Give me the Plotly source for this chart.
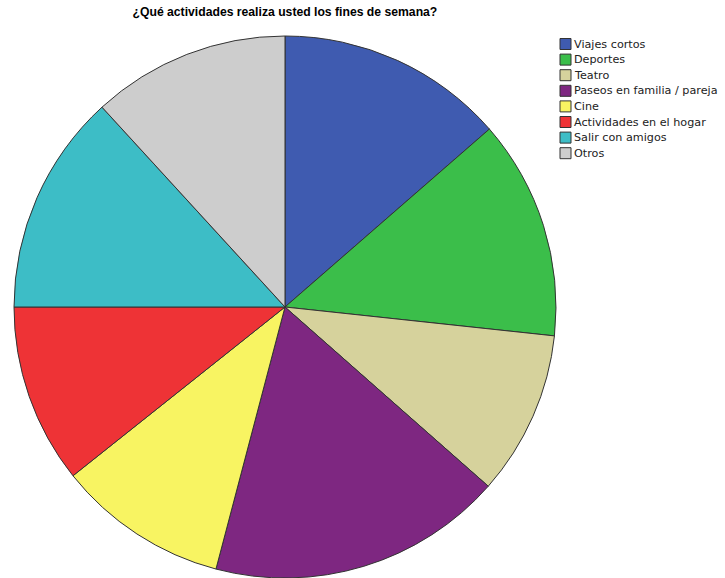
import plotly.graph_objects as go

categories = ["Viajes cortos", "Deportes", "Teatro", "Paseos en familia / pareja",
              "Cine", "Actividades en el hogar", "Salir con amigos", "Otros"]
values = [13.6, 13.1, 9.8, 17.6, 10.2, 10.7, 13.2, 11.8]
colors = ["#3F5BB0", "#3BBE4A", "#D6D29C", "#7E2781", "#F8F462", "#EE3336", "#3DBDC6", "#CDCDCD"]

W, H = 725, 578

fig = go.Figure(go.Pie(
    labels=categories,
    values=values,
    sort=False,
    direction="clockwise",
    rotation=0,
    textinfo="none",
    hoverinfo="label+percent",
    showlegend=False,
    marker=dict(colors=colors, line=dict(color="#333333", width=1)),
    domain=dict(x=[0.0193, 0.7669], y=[0.0, 0.9377]),
))

# compact legend (SPSS style) built from the category list
shapes, annots = [], []
y0, step = 44, 15.6
for i, (lab, col) in enumerate(zip(categories, colors)):
    yc = y0 + i * step
    shapes.append(dict(type="rect", xref="paper", yref="paper",
                       x0=560 / W, x1=571 / W,
                       y0=1 - (yc + 5.5) / H, y1=1 - (yc - 5.5) / H,
                       fillcolor=col, line=dict(color="#333333", width=1)))
    annots.append(dict(text=lab, xref="paper", yref="paper",
                       x=572 / W, y=1 - yc / H, xanchor="left", yanchor="middle",
                       showarrow=False,
                       font=dict(family="DejaVu Sans", size=11.2, color="#222")))

fig.update_layout(
    width=W, height=H,
    margin=dict(l=0, r=0, t=0, b=0),
    paper_bgcolor="white",
    title=dict(text="<b>¿Qué actividades realiza usted los fines de semana?</b>",
               x=0.393, xanchor="center", y=0.979, yanchor="middle",
               font=dict(family="Liberation Sans, Arial", size=12.2, color="black")),
    shapes=shapes,
    annotations=annots,
)

fig.write_html("out.html")
